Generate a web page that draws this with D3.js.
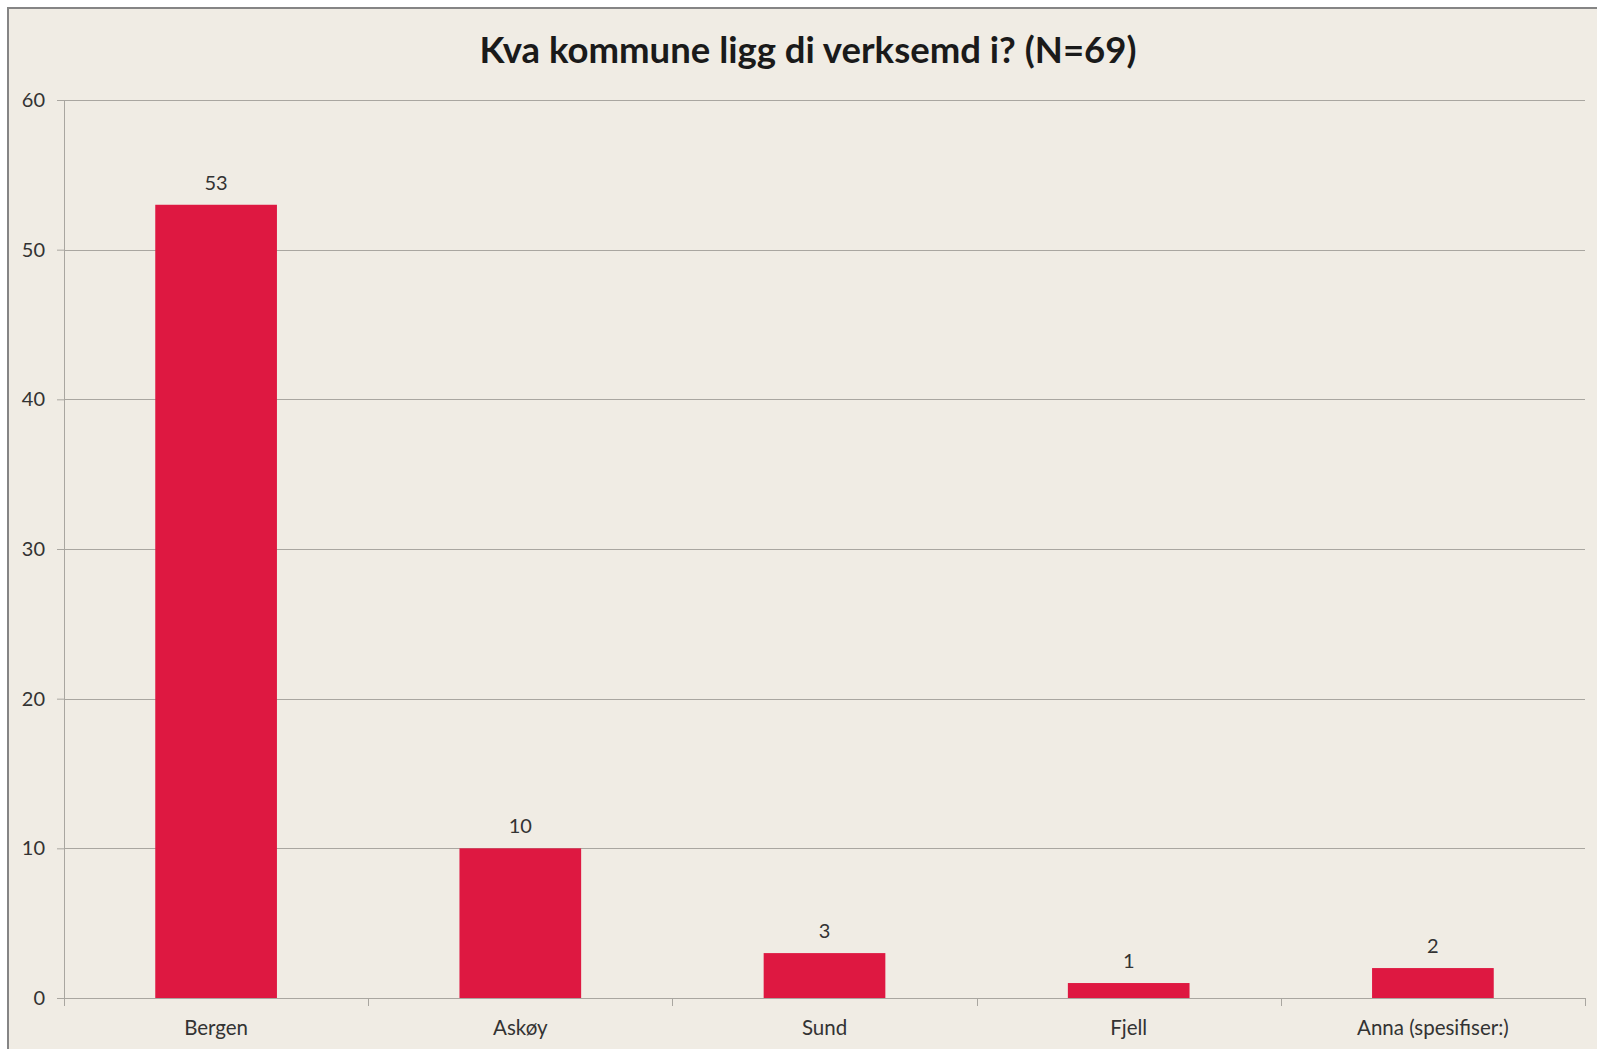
<!DOCTYPE html>
<html>
<head>
<meta charset="utf-8">
<script src="https://cdn.jsdelivr.net/npm/d3@7"></script>
<style>
  body { margin: 0; background: #ffffff; overflow: hidden; }
  svg { display: block; }
</style>
</head>
<body>
<svg id="chart"></svg>
<script>
// data
const categories = ["Bergen", "Askøy", "Sund", "Fjell", "Anna (spesifiser:)"];
const counts = [53, 10, 3, 1, 2];
const yTicks = [0, 10, 20, 30, 40, 50, 60];
const chartTitle = "Kva kommune ligg di verksemd i? (N=69)";

// layout
const width = 1597;
const height = 1049;
const margin = {top: 100, right: 12, bottom: 51, left: 64};
const innerW = width - margin.left - margin.right;
const innerH = height - margin.top - margin.bottom;

const svg = d3.select('#chart')
    .attr('width', width)
    .attr('height', height);

// chart area with border on top/left
svg.append('rect')
    .attr('x', 8).attr('y', 8)
    .attr('width', width).attr('height', height)
    .attr('fill', '#f0ece4');
svg.append('path')
    .attr('d', 'M8,' + height + 'V8H' + width)
    .attr('fill', 'none')
    .attr('stroke', '#858585')
    .attr('stroke-width', 2);

svg.append('text')
    .attr('x', 808)
    .attr('y', 63)
    .attr('text-anchor', 'middle')
    .style('font-family', 'Lato, sans-serif')
    .style('font-weight', 'bold')
    .style('font-size', '36.5px')
    .style('fill', '#1a1a1a')
    .text(chartTitle);

const g = svg.append('g')
    .attr('transform', 'translate(' + margin.left + ',' + margin.top + ')');

const x = d3.scaleBand()
    .domain(categories)
    .range([0, innerW])
    .paddingInner(0.6)
    .paddingOuter(0.3);

const y = d3.scaleLinear()
    .domain([0, 60])
    .range([innerH, 0]);

// gridlines
g.append('g')
    .selectAll('line')
    .data(yTicks)
    .join('line')
    .attr('x1', 0)
    .attr('x2', innerW)
    .attr('y1', d => Math.round(y(d)) + 0.5)
    .attr('y2', d => Math.round(y(d)) + 0.5)
    .attr('stroke', '#a9a6a0')
    .attr('stroke-width', 1);

// Y axis
const yAxis = g.append('g')
    .call(d3.axisLeft(y).tickValues(yTicks).tickSize(7).tickPadding(12));
yAxis.select('.domain').attr('stroke', '#a9a6a0');
yAxis.selectAll('line').attr('stroke', '#a9a6a0');
yAxis.selectAll('text')
    .style('font-family', 'Lato, sans-serif')
    .style('font-size', '20px')
    .style('fill', '#333333');

// X axis
const xAxis = g.append('g')
    .attr('transform', 'translate(0,' + innerH + ')')
    .call(d3.axisBottom(x).tickSize(0).tickPadding(22));
xAxis.select('.domain').attr('stroke', '#a9a6a0');
xAxis.selectAll('text')
    .style('font-family', 'Lato, sans-serif')
    .style('font-size', '20.5px')
    .style('fill', '#333333');

// category separator ticks
const bounds = d3.range(categories.length + 1).map(i => i * innerW / categories.length);
g.append('g')
    .selectAll('line')
    .data(bounds)
    .join('line')
    .attr('x1', d => Math.round(d) + 0.5)
    .attr('x2', d => Math.round(d) + 0.5)
    .attr('y1', innerH)
    .attr('y2', innerH + 8)
    .attr('stroke', '#a9a6a0');

// bars
g.selectAll('.bar')
    .data(counts)
    .join('rect')
    .attr('class', 'bar')
    .attr('x', (d, i) => x(categories[i]))
    .attr('y', d => y(d))
    .attr('width', x.bandwidth())
    .attr('height', d => innerH - y(d))
    .attr('fill', '#de1841');

// value labels
g.selectAll('.val')
    .data(counts)
    .join('text')
    .attr('class', 'val')
    .attr('x', (d, i) => x(categories[i]) + x.bandwidth() / 2)
    .attr('y', d => y(d) - 15)
    .attr('text-anchor', 'middle')
    .style('font-family', 'Lato, sans-serif')
    .style('font-size', '20px')
    .style('fill', '#333333')
    .text(d => d);
</script>
</body>
</html>
